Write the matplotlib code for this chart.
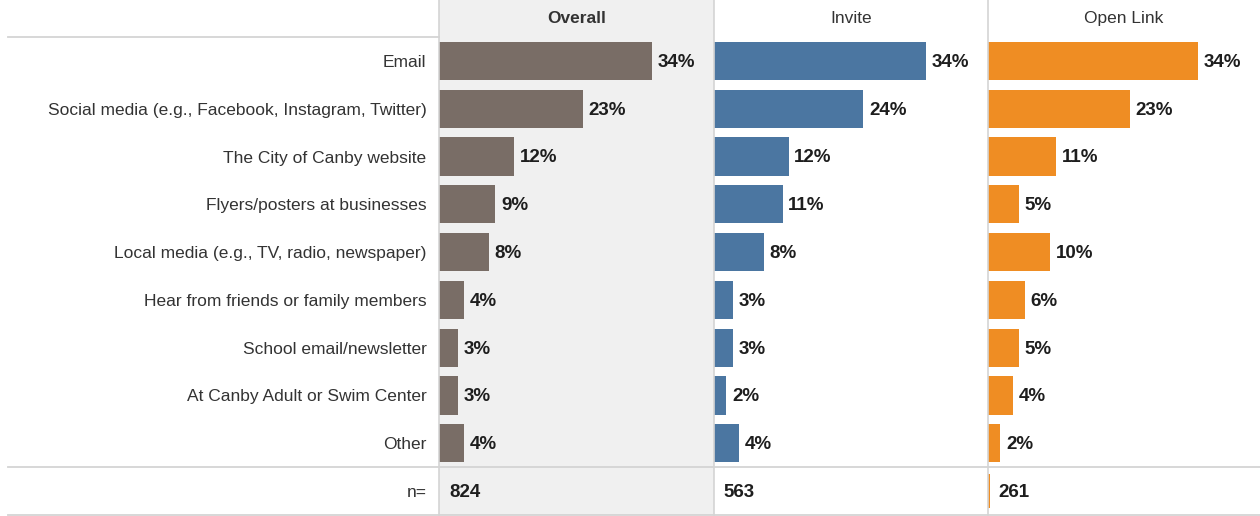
import matplotlib.pyplot as plt
from matplotlib.lines import Line2D

plt.rcParams['font.family'] = ['Liberation Sans Narrow', 'Liberation Sans', 'DejaVu Sans']

categories = [
    "Email",
    "Social media (e.g., Facebook, Instagram, Twitter)",
    "The City of Canby website",
    "Flyers/posters at businesses",
    "Local media (e.g., TV, radio, newspaper)",
    "Hear from friends or family members",
    "School email/newsletter",
    "At Canby Adult or Swim Center",
    "Other",
]
panels = ["Overall", "Invite", "Open Link"]
overall = [34, 23, 12, 9, 8, 4, 3, 3, 4]
invite = [34, 24, 12, 11, 8, 3, 3, 2, 4]
open_link = [34, 23, 11, 5, 10, 6, 5, 4, 2]
n_counts = [824, 563, 261]

colors = ["#796d66", "#4b76a1", "#ef8d23"]
series = [overall, invite, open_link]

W, H = 1260, 516
fig = plt.figure(figsize=(W / 100, H / 100), dpi=100)

# panel placement in pixels (left, width)
panel_px = [(439, 275), (714, 274), (988, 272)]
top_px, bot_px = 0, 515
header_rows = 37 / 47.8

n_rows = len(categories)
ypos = list(range(n_rows))
grid_c = "#d4d4d4"

axes = []
for i, (left, width) in enumerate(panel_px):
    ax = fig.add_axes([left / W, (H - bot_px) / H, width / W, (bot_px - top_px) / H])
    axes.append(ax)
    if i == 0:
        ax.set_facecolor("#f0f0f0")
    ax.barh(ypos, series[i], height=0.8, color=colors[i], edgecolor="none")
    for y, v in zip(ypos, series[i]):
        ax.text(v + 0.9, y + 0.03, f"{v}%", va="center", ha="left", fontsize=13.5,
                fontweight="bold", color="#1e1e1e")
    ax.text(1.6, n_rows + 0.03, str(n_counts[i]), va="center", ha="left", fontsize=13.5,
            fontweight="bold", color="#1e1e1e")
    ax.text(22, -0.5 - header_rows / 2, panels[i], va="center", ha="center",
            fontsize=12.5, fontweight="bold" if i == 0 else "normal", color="#333333")
    ax.set_xlim(0, 44)
    ax.set_ylim(n_rows + 0.5, -0.5 - header_rows)
    ax.set_xticks([])
    for side in ["top", "right", "bottom"]:
        ax.spines[side].set_visible(False)
    ax.spines["left"].set_color(grid_c)
    ax.spines["left"].set_linewidth(1.2)
    if i == 0:
        ax.set_yticks(ypos + [n_rows])
        ax.set_yticklabels(categories + ["n="], fontsize=12.5, color="#333333")
        ax.tick_params(axis="y", length=0, pad=9)
    else:
        ax.set_yticks([])

# thin orange mark in the Open Link n row
axes[2].barh([n_rows], [0.25], height=0.7, color=colors[2])

# horizontal separators
def hline(y_px, x0_px, x1_px):
    fig.add_artist(Line2D([x0_px / W, x1_px / W], [(H - y_px) / H, (H - y_px) / H],
                          color=grid_c, linewidth=1.3))

hline(37, 8, 439)
hline(467, 8, 1260)
hline(514.5, 8, 1260)

fig.savefig("out.png", dpi=100)
